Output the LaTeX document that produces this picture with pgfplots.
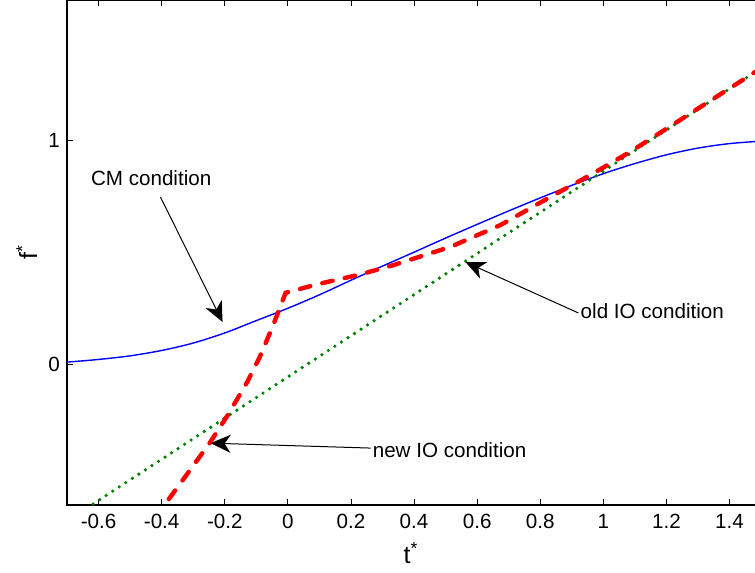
\documentclass[border=0pt]{standalone}
\usepackage{fontspec}
\setmainfont{Liberation Sans}
\usepackage{pgfplots}
\pgfplotsset{compat=1.18}
\usetikzlibrary{arrows.meta}
\definecolor{mgreen}{rgb}{0,0.5,0}

\begin{document}
\begin{tikzpicture}
\begin{axis}[
  scale only axis, width=347pt, height=252.5pt,
  xmin=-0.7, xmax=1.5, ymin=-0.627, ymax=1.624,
  xtick={-0.6,-0.4,-0.2,0,0.2,0.4,0.6,0.8,1,1.2,1.4}, ytick={0,1},
  tick align=inside, major tick length=3pt,
  tick style={black, line width=0.4pt},
  axis line style={line width=0.6pt},
  tick label style={font=\fontsize{10.3}{12}\selectfont},
  xticklabel style={yshift=-1pt},
  /pgf/number format/assume math mode=true,
  xlabel={t\textsuperscript{*}}, ylabel={f\textsuperscript{*}},
  label style={font=\fontsize{12.5}{14}\selectfont},
  xlabel style={at={(axis description cs:0.4956,-0.1149)}, anchor=base},
  ylabel style={at={(axis description cs:-0.0432,0.5)}, anchor=base},
]
% CM condition
\addplot[blue, line width=0.7pt, smooth] coordinates {
  (-0.7,0.010) (-0.6,0.022) (-0.5,0.038) (-0.4,0.062) (-0.3,0.095)
  (-0.2,0.140) (-0.1,0.195) (0,0.250) (0.1,0.310) (0.2,0.375)
  (0.3,0.438) (0.4,0.500) (0.5,0.563) (0.6,0.624) (0.7,0.684)
  (0.8,0.742) (0.9,0.798) (1.0,0.850) (1.1,0.895) (1.2,0.934)
  (1.3,0.964) (1.4,0.984) (1.5,0.995) };
% old IO condition
\addplot[mgreen, line width=1.8pt, line cap=round, dash pattern=on 0pt off 3.9pt]
  coordinates { (-0.7,-0.698) (1.5,1.320) };
% new IO condition
\addplot[red, line width=2.2pt, line cap=round, dash pattern=on 5.3pt off 6.2pt]
  coordinates {
  (-0.42,-0.683) (-0.391,-0.627) (-0.32,-0.490) (-0.248,-0.351) (-0.19,-0.225)
  (-0.129,-0.079) (-0.09,0.030) (-0.053,0.153) (-0.03,0.235) (-0.007,0.319)
  (0.093,0.357) (0.23,0.401) (0.336,0.443) (0.516,0.524) (0.674,0.621)
  (0.833,0.747) (0.959,0.844) (1.086,0.948) (1.5,1.320) };

\node[anchor=base west, font=\fontsize{10.3}{12}\selectfont, inner sep=0pt]
  at (axis cs:-0.625,0.799) {CM condition};
\node[anchor=base west, font=\fontsize{10.3}{12}\selectfont, inner sep=0pt]
  at (axis cs:0.927,0.206) {old IO condition};
\node[anchor=base west, font=\fontsize{10.3}{12}\selectfont, inner sep=0pt]
  at (axis cs:0.268,-0.414) {new IO condition};

\draw[-{Stealth[length=10pt,width=9pt,inset=3pt]}, line width=0.5pt]
  (axis cs:-0.404,0.746) -- (axis cs:-0.207,0.189);
\draw[-{Stealth[length=10pt,width=9pt,inset=3pt]}, line width=0.5pt]
  (axis cs:0.921,0.229) -- (axis cs:0.563,0.456);
\draw[-{Stealth[length=10pt,width=9pt,inset=3pt]}, line width=0.5pt]
  (axis cs:0.262,-0.373) -- (axis cs:-0.245,-0.351);
\end{axis}
\pgfresetboundingbox
\path ([xshift=-33.5pt,yshift=-33.5pt]current axis.south west)
  rectangle ([xshift=-3.05pt]current axis.north east);
\end{tikzpicture}
\end{document}
